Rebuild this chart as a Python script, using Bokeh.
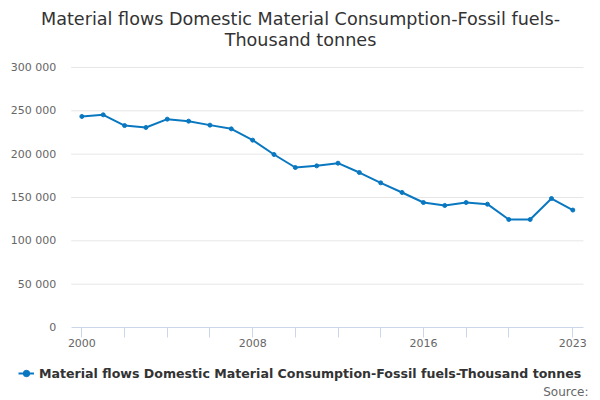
from bokeh.plotting import figure
from bokeh.models import FixedTicker, Legend, LegendItem, Range1d, Label
from bokeh.embed import file_html
from bokeh.resources import INLINE

years = list(range(2000, 2024))
values = [243500, 245400, 233000, 230800, 240400, 238100, 233500, 229200,
          216200, 199600, 184600, 186500, 189600, 178800, 166900, 155800,
          144200, 140800, 144200, 142300, 124600, 124600, 148800, 135500]
title_lines = ["Material flows Domestic Material Consumption-Fossil fuels-",
               "Thousand tonnes"]
series_name = "Material flows Domestic Material Consumption-Fossil fuels-Thousand tonnes"
source_text = "Source:"
y_ticks = [0, 50000, 100000, 150000, 200000, 250000, 300000]
y_tick_labels = ["0", "50 000", "100 000", "150 000", "200 000", "250 000", "300 000"]
x_label_ticks = [2000, 2008, 2016, 2023]
x_minor_ticks = [2002, 2004, 2006, 2010, 2012, 2014, 2018, 2020]

FONT = "DejaVu Sans"
LINE_COLOR = "#0a78c0"
W, H = 600, 400

# plot-area geometry (pixels) -> ranges so the whole canvas is the frame
PL, PR, PT, PB = 70.7, 583.0, 67.0, 327.0          # plot area edges on the canvas
X0, X1 = years[0] - 0.5, years[-1] + 0.5            # category padding of half a year
xs = (X1 - X0) / (PR - PL)
ys = (y_ticks[-1] - y_ticks[0]) / (PB - PT)
x_range = Range1d(X0 - PL * xs, X1 + (W - PR) * xs)
y_range = Range1d(y_ticks[0] - (H - PB) * ys, y_ticks[-1] + PT * ys)

p = figure(width=W, height=H, output_backend="svg", toolbar_location=None,
           x_range=x_range, y_range=y_range, min_border=0)
p.outline_line_color = None
p.xgrid.visible = False
p.ygrid.visible = False

# horizontal grid lines limited to the plot area
gy = y_ticks[1:]
p.segment(x0=[X0] * len(gy), x1=[X1] * len(gy), y0=gy, y1=gy,
          line_color="#e6e6e6", line_width=1)

ln = p.line(years, values, line_color=LINE_COLOR, line_width=2)
sc = p.scatter(years, values, size=4, fill_color=LINE_COLOR, line_color=LINE_COLOR)

xa = p.xaxis[0]
xa.fixed_location = y_ticks[0]
xa.bounds = (X0, X1)
xa.ticker = FixedTicker(ticks=x_label_ticks, minor_ticks=x_minor_ticks)
xa.axis_line_color = "#ccd6eb"
xa.major_tick_line_color = "#ccd6eb"
xa.minor_tick_line_color = "#ccd6eb"
xa.major_tick_out = 10
xa.major_tick_in = 0
xa.minor_tick_out = 10
xa.minor_tick_in = 0
xa.major_label_standoff = 1
xa.major_label_text_font = FONT
xa.major_label_text_font_size = "11px"
xa.major_label_text_color = "#666666"

ya = p.yaxis[0]
ya.fixed_location = X0
ya.bounds = (y_ticks[0], y_ticks[-1])
ya.ticker = FixedTicker(ticks=y_ticks)
ya.major_label_overrides = {t: l for t, l in zip(y_ticks, y_tick_labels)}
ya.axis_line_color = None
ya.major_tick_line_color = None
ya.minor_tick_line_color = None
ya.major_tick_out = 0
ya.major_tick_in = 0
ya.major_label_standoff = 15
ya.major_label_text_font = FONT
ya.major_label_text_font_size = "11px"
ya.major_label_text_color = "#666666"

# title (two centred lines)
for txt, ycen in [(title_lines[0], 18), (title_lines[1], 39)]:
    p.add_layout(Label(x=W / 2, y=H - ycen, x_units="screen", y_units="screen",
                       text=txt, text_align="center", text_baseline="middle",
                       text_font=FONT, text_font_size="17.6px", text_color="#333333"))

legend = Legend(items=[LegendItem(label=series_name, renderers=[ln, sc])],
                location=(18, 19), orientation="horizontal",
                border_line_color=None, background_fill_alpha=0,
                label_text_font=FONT, label_text_font_style="bold",
                label_text_font_size="12.6px", label_text_color="#333333",
                glyph_width=16, glyph_height=16, label_height=16,
                padding=0, margin=0, spacing=0, label_standoff=5)
p.add_layout(legend, "center")

p.add_layout(Label(x=588, y=H - 391, x_units="screen", y_units="screen",
                   text=source_text, text_align="right", text_baseline="middle",
                   text_font=FONT, text_font_size="12px", text_color="#666666"))

open("out.html", "w").write(file_html(p, INLINE))
